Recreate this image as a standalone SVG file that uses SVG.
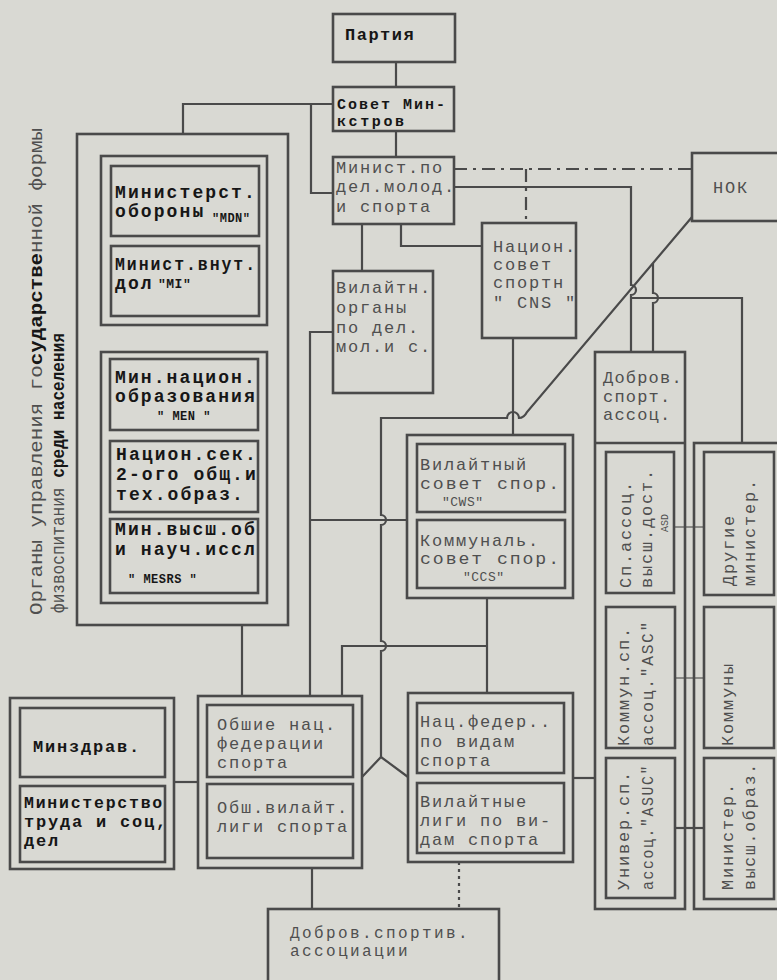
<svg xmlns="http://www.w3.org/2000/svg" width="777" height="980" viewBox="0 0 777 980">
<style>
.bx{fill:none;stroke:#4a4a4a;stroke-width:2.6}
.ln{fill:none;stroke:#4a4a4a;stroke-width:2.2}
.th{fill:none;stroke:#555;stroke-width:1.2}
.dd{fill:none;stroke:#4a4a4a;stroke-width:2.2;stroke-dasharray:13 6 3 6}
.dt{fill:none;stroke:#4a4a4a;stroke-width:2.2;stroke-dasharray:3 4}
text{font-family:"Liberation Mono","DejaVu Sans Mono",monospace;font-size:17px;letter-spacing:1.8px;fill:#4f4f4f}
.k{font-weight:bold;fill:#161616}
.kl{font-weight:bold;fill:#161616;font-size:18px;letter-spacing:2.1px}
.s{font-weight:bold;fill:#161616;font-size:12px;letter-spacing:0.5px}
.sg{font-size:13px;letter-spacing:0.5px}
.lb{letter-spacing:0}
</style>
<rect width="777" height="980" fill="#d9d9d3"/>

<g id="connectors">
<path class="ln" d="M396,62 V87"/>
<path class="ln" d="M396,131 V157"/>
<path class="ln" d="M333,104 H183 V134"/>
<path class="ln" d="M311,104 V193 H333"/>
<path class="ln" d="M362,224 V271"/>
<path class="ln" d="M401,224 V246 H482"/>
<path class="dd" d="M454,169 H692"/>
<path class="dd" d="M526,169 V223"/>
<path class="ln" d="M454,187 H631 V285 a5,5 0 0 1 0,10 V352"/>
<path class="ln" d="M631,298 H742 V443"/>
<path class="ln" d="M653,263 V293 a5,5 0 0 1 0,10 V352"/>
<path class="ln" d="M692,217 L527,412 Q524,418 519,418 a6,6 0 0 0 -12,0 H381 V515 a5,5 0 0 1 0,10 V641 a5,5 0 0 1 0,10 V757"/>
<path class="ln" d="M362,777 L381,757 L408,777"/>
<path class="ln" d="M513,338 V435"/>
<path class="ln" d="M333,332 H310 V696"/>
<path class="ln" d="M310,520 H407"/>
<path class="ln" d="M242,625 V696"/>
<path class="ln" d="M487,598 V693"/>
<path class="ln" d="M487,646 H342 V696"/>
<path class="ln" d="M174,782 H198"/>
<path class="ln" d="M312,868 V909"/>
<path class="dt" d="M459,862 V909"/>
<path class="ln" d="M573,778 H594"/>
<path class="th" d="M674,527 H704"/>
<path class="th" d="M675,678 H704"/>
<path class="ln" d="M675,828 H704"/>
</g>

<g id="partiya">
<rect class="bx" x="333" y="14" width="122" height="48"/>
<text class="k" x="345" y="40" style="letter-spacing:1.5px">Партия</text>
</g>

<g id="sovet-ministrov">
<rect class="bx" x="333" y="87" width="121" height="44"/>
<text class="k" x="337" y="109" style="font-size:15px;letter-spacing:2px">Совет Мин-</text>
<text class="k" x="337" y="126" style="font-size:15px;letter-spacing:2.6px">кстров</text>
</g>

<g id="minist-molod">
<rect class="bx" x="333" y="157" width="121" height="67"/>
<text x="336" y="173">Минист.по</text>
<text x="336" y="192">дел.молод.</text>
<text x="336" y="212">и спорта</text>
</g>

<g id="nok">
<rect class="bx" x="692" y="153" width="100" height="68"/>
<text x="713" y="193">НОК</text>
</g>

<g id="nacion-sovet">
<rect class="bx" x="482" y="223" width="94" height="115"/>
<text x="493" y="252">Национ.</text>
<text x="493" y="270">совет</text>
<text x="493" y="288">спортн</text>
<text x="493" y="308">" CNS "</text>
</g>

<g id="vilayat-organy">
<rect class="bx" x="333" y="271" width="100" height="122"/>
<text x="336" y="293">Вилайтн.</text>
<text x="336" y="313">органы</text>
<text x="336" y="333">по дел.</text>
<text x="336" y="352">мол.и с.</text>
</g>

<g id="left-label">
<text class="lb" transform="rotate(-90 42 615)" x="42" y="615" style="font-size:19px" textLength="487" lengthAdjust="spacingAndGlyphs">Органы управления го<tspan class="k">сударстве</tspan>нной формы</text>
<text class="lb" transform="rotate(-90 64 613)" x="64" y="613" style="font-size:19px" textLength="280" lengthAdjust="spacingAndGlyphs">физвоспитания <tspan class="k">среди населения</tspan></text>
</g>

<g id="gov-organs">
<rect class="bx" x="77" y="134" width="211" height="491"/>
<g id="group-mdn-mi">
<rect class="bx" x="101" y="156" width="166" height="169"/>
<g id="mdn">
<rect class="bx" x="111" y="166" width="148" height="70"/>
<text class="kl" x="115" y="198">Министерст.</text>
<text class="kl" x="115" y="217">обороны</text>
<text class="s" x="212" y="222">"MDN"</text>
</g>
<g id="mi">
<rect class="bx" x="111" y="246" width="148" height="70"/>
<text class="kl" x="115" y="270" textLength="142" lengthAdjust="spacingAndGlyphs">Минист.внут.</text>
<text class="kl" x="115" y="289">дол</text>
<text class="s" x="158" y="288" style="font-size:13px">"MI"</text>
</g>
</g>
<g id="group-edu">
<rect class="bx" x="101" y="352" width="166" height="251"/>
<g id="men">
<rect class="bx" x="110" y="359" width="148" height="71"/>
<text class="kl" x="115" y="383">Мин.национ.</text>
<text class="kl" x="115" y="402">образования</text>
<text class="s" x="157" y="420">" MEN "</text>
</g>
<g id="nacion-sek">
<rect class="bx" x="110" y="441" width="148" height="71"/>
<text class="kl" x="116" y="460">Национ.сек.</text>
<text class="kl" x="116" y="480">2-ого общ.и</text>
<text class="kl" x="116" y="500">тех.образ.</text>
</g>
<g id="mesrs">
<rect class="bx" x="110" y="519" width="148" height="74"/>
<text class="kl" x="115" y="535">Мин.высш.об</text>
<text class="kl" x="115" y="555">и науч.иссл</text>
<text class="s" x="128" y="583">" MESRS "</text>
</g>
</g>
</g>

<g id="vilayat-sovety">
<rect class="bx" x="407" y="435" width="166" height="163"/>
<g id="cws">
<rect class="bx" x="417" y="444" width="148" height="68"/>
<text x="420" y="470">Вилайтный</text>
<text x="420" y="489" textLength="141" lengthAdjust="spacingAndGlyphs">совет спор.</text>
<text class="sg" x="442" y="506">"CWS"</text>
</g>
<g id="ccs">
<rect class="bx" x="417" y="520" width="148" height="68"/>
<text x="420" y="546">Коммуналь.</text>
<text x="420" y="564" textLength="141" lengthAdjust="spacingAndGlyphs">совет спор.</text>
<text class="sg" x="463" y="581">"CCS"</text>
</g>
</g>

<g id="dobrov-sport-assoc">
<rect class="bx" x="595" y="352" width="90" height="557"/>
<path class="bx" d="M595,443 H685"/>
<text x="603" y="383" style="letter-spacing:1.2px">Добров.</text>
<text x="603" y="402" style="letter-spacing:1.2px">спорт.</text>
<text x="603" y="420" style="letter-spacing:1.2px">ассоц.</text>
<g id="asd">
<rect class="bx" x="606" y="452" width="68" height="141"/>
<text transform="rotate(-90 631 588)" x="631" y="588">Сп.ассоц.</text>
<text transform="rotate(-90 652 588)" x="652" y="588">высш.дост.</text>
<text transform="rotate(-90 668 532)" x="668" y="532" style="font-size:10px;letter-spacing:0">ASD</text>
</g>
<g id="asc">
<rect class="bx" x="606" y="607" width="69" height="141"/>
<text transform="rotate(-90 629 746)" x="629" y="746">Коммун.сп.</text>
<text transform="rotate(-90 653 746)" x="653" y="746" textLength="126" lengthAdjust="spacingAndGlyphs">ассоц."ASC"</text>
</g>
<g id="asuc">
<rect class="bx" x="606" y="758" width="69" height="140"/>
<text transform="rotate(-90 629 890)" x="629" y="890">Универ.сп.</text>
<text transform="rotate(-90 653 890)" x="653" y="890" textLength="126" lengthAdjust="spacingAndGlyphs">ассоц."ASUC"</text>
</g>
</g>

<g id="other-ministries">
<rect class="bx" x="694" y="443" width="95" height="466"/>
<g id="drugie">
<rect class="bx" x="704" y="452" width="70" height="143"/>
<text transform="rotate(-90 734 586)" x="734" y="586">Другие</text>
<text transform="rotate(-90 755 586)" x="755" y="586">министер.</text>
</g>
<g id="kommuny">
<rect class="bx" x="704" y="607" width="70" height="141"/>
<text transform="rotate(-90 733 746)" x="733" y="746">Коммуны</text>
</g>
<g id="minister-vyssh">
<rect class="bx" x="704" y="758" width="70" height="141"/>
<text transform="rotate(-90 733 890)" x="733" y="890">Министер.</text>
<text transform="rotate(-90 755 890)" x="755" y="890" textLength="128" lengthAdjust="spacingAndGlyphs">высш.образ.</text>
</g>
</g>

<g id="minzdrav-group">
<rect class="bx" x="10" y="698" width="164" height="171"/>
<g id="minzdrav">
<rect class="bx" x="20" y="708" width="145" height="69"/>
<text class="k" x="33" y="752">Минздрав.</text>
</g>
<g id="mintruda">
<rect class="bx" x="20" y="786" width="145" height="76"/>
<text class="k" x="24" y="808" textLength="140" lengthAdjust="spacingAndGlyphs">Министерство</text>
<text class="k" x="24" y="827">труда и соц,</text>
<text class="k" x="24" y="846">дел</text>
</g>
</g>

<g id="obshie-federacii">
<rect class="bx" x="198" y="696" width="164" height="172"/>
<g id="obshie-nac">
<rect class="bx" x="207" y="705" width="146" height="72"/>
<text x="217" y="730">Обшие нац.</text>
<text x="217" y="749">федерации</text>
<text x="217" y="768">спорта</text>
</g>
<g id="obsh-vilayat">
<rect class="bx" x="207" y="784" width="146" height="74"/>
<text x="217" y="813">Обш.вилайт.</text>
<text x="217" y="832">лиги спорта</text>
</g>
</g>

<g id="nac-federacii">
<rect class="bx" x="408" y="693" width="165" height="169"/>
<g id="nac-feder">
<rect class="bx" x="417" y="703" width="147" height="70"/>
<text x="420" y="727">Нац.федер..</text>
<text x="420" y="747">по видам</text>
<text x="420" y="766">спорта</text>
</g>
<g id="vilayat-ligi">
<rect class="bx" x="417" y="783" width="147" height="70"/>
<text x="420" y="807">Вилайтные</text>
<text x="420" y="826">лиги по ви-</text>
<text x="420" y="845">дам спорта</text>
</g>
</g>

<g id="dobrov-assoc">
<rect class="bx" x="268" y="909" width="231" height="90"/>
<text x="290" y="938" style="font-size:16px;letter-spacing:2.4px">Добров.спортив.</text>
<text x="290" y="956" style="font-size:16px;letter-spacing:2.4px">ассоциации</text>
</g>
</svg>
